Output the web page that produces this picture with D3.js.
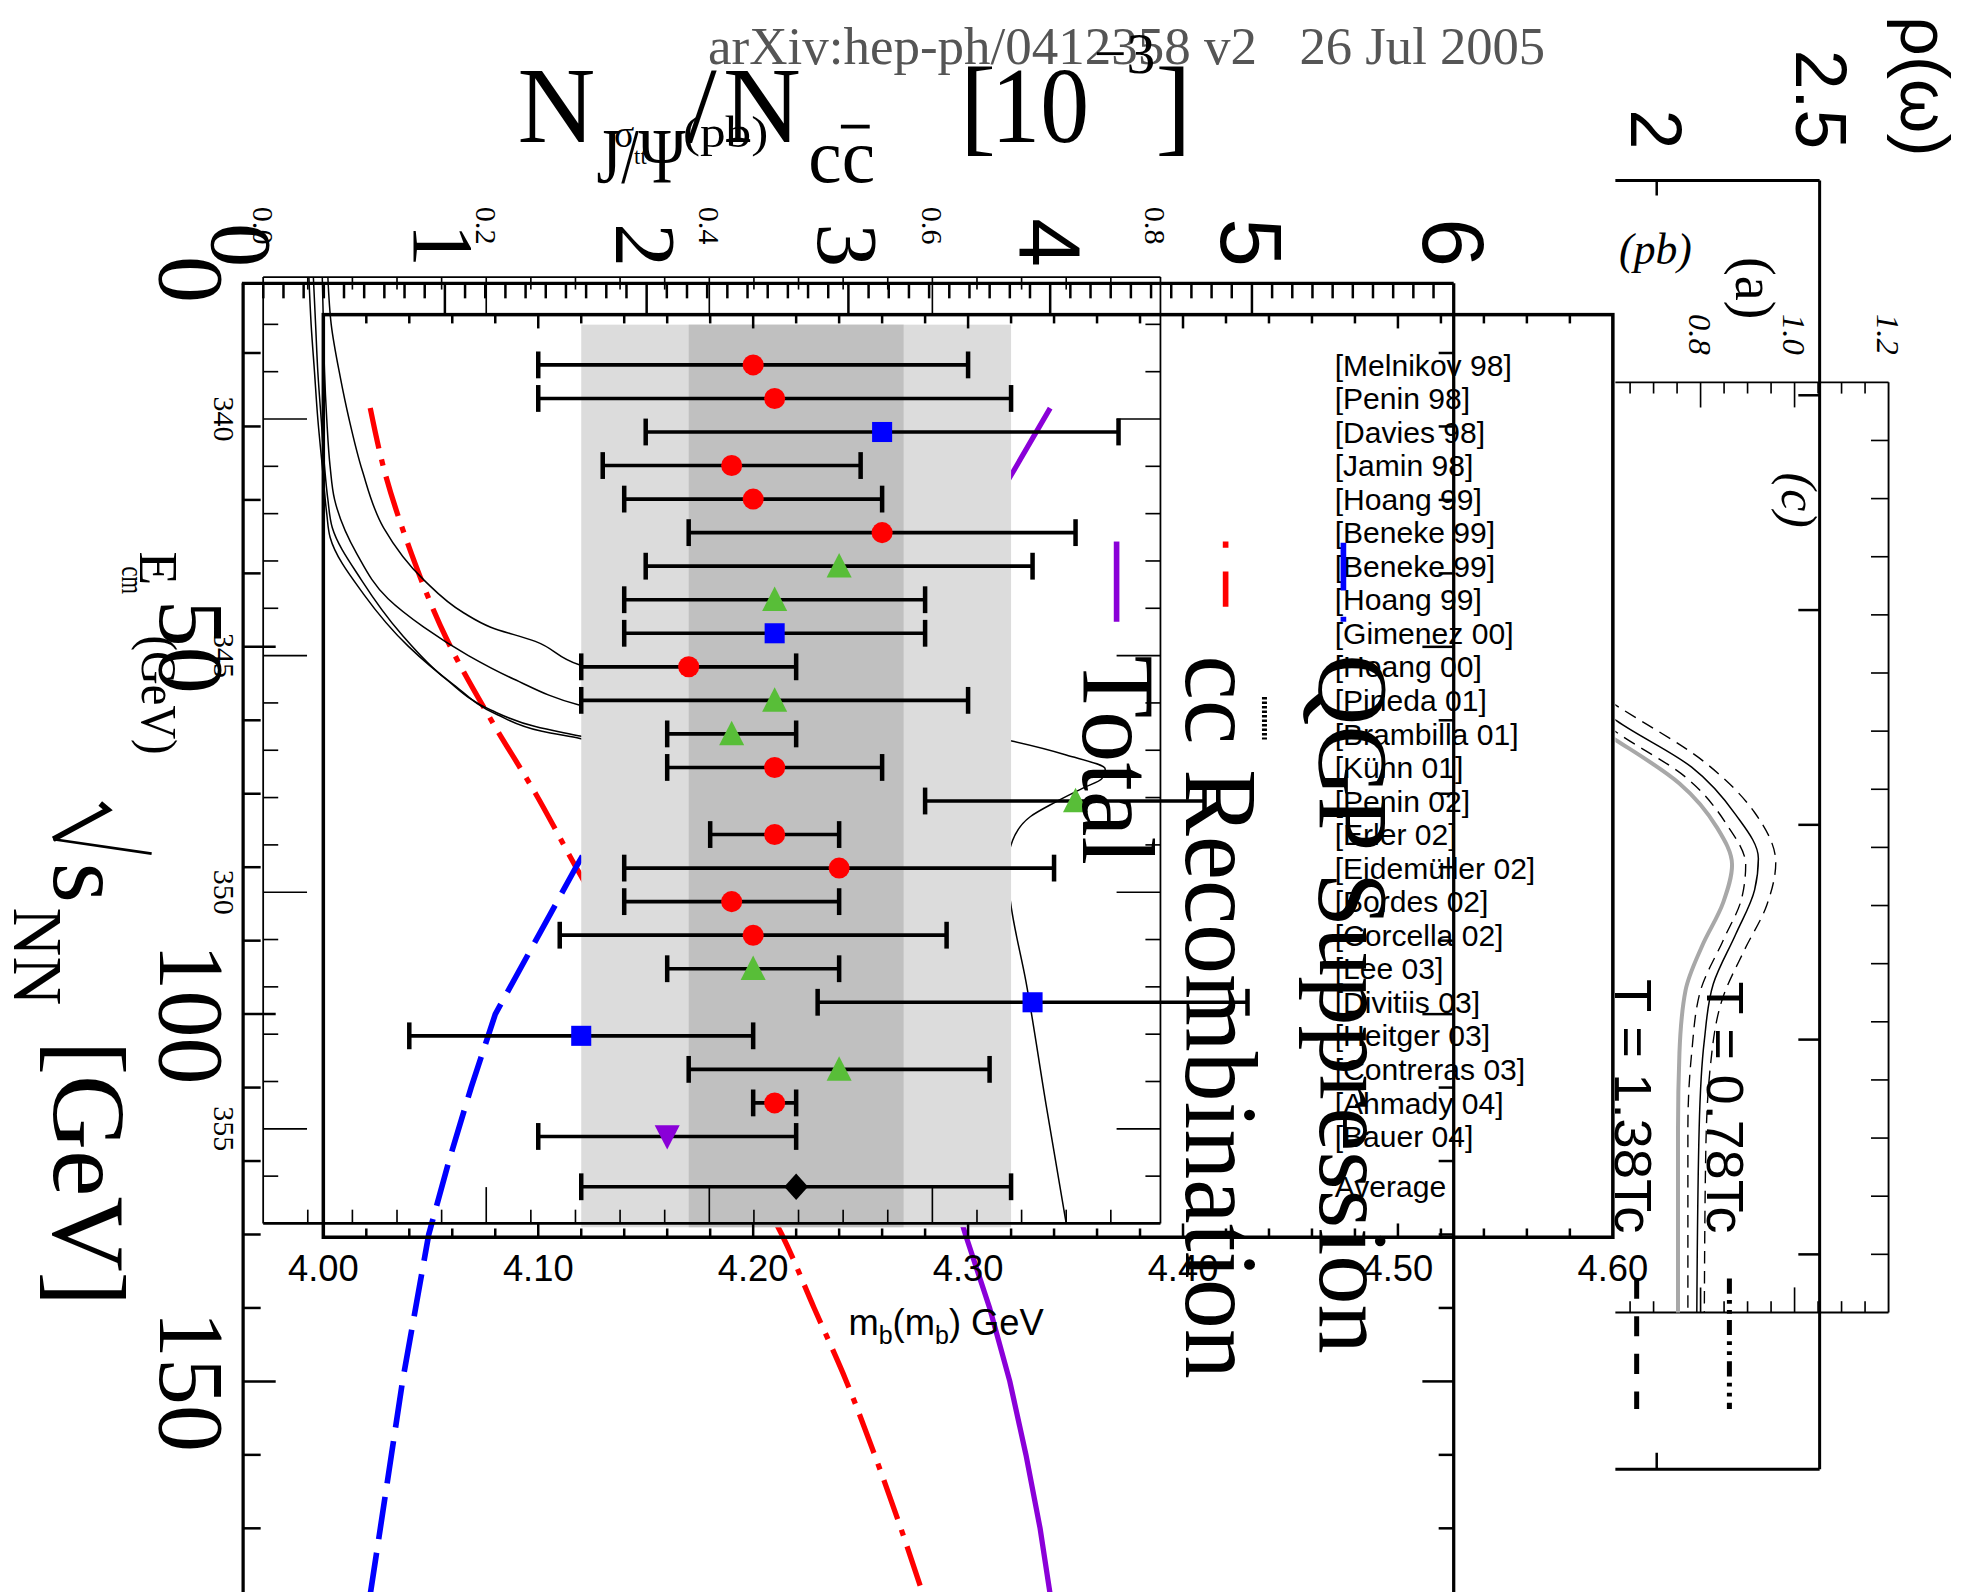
<!DOCTYPE html>
<html><head><meta charset="utf-8">
<script src="https://cdnjs.cloudflare.com/ajax/libs/d3/7.8.5/d3.min.js"></script>
<style>html,body{margin:0;padding:0;background:#fff;overflow:hidden}svg{display:block}</style>
</head><body><svg id="c"></svg>
<script>
// ================= DATA =================
// Chart B : N_J/psi / N_ccbar [10^-3] versus sqrt(s_NN) [GeV]
const sqrtS          = [17.5, 26, 37, 49, 60, 70, 80, 90, 100, 110, 120, 130, 140, 150, 160, 170, 179];
const recombination  = [0.63, 0.70, 0.83, 1.01, 1.23, 1.45, 1.65, 1.86, 2.06, 2.27, 2.47, 2.67, 2.83, 2.99, 3.13, 3.26, 3.37];
const qgpSuppression = [3.37, 3.12, 2.75, 2.40, 2.10, 1.86, 1.65, 1.45, 1.25, 1.13, 1.02, 0.92, 0.855, 0.79, 0.735, 0.68, 0.63];
const totalRatio     = [4.00, 3.82, 3.58, 3.41, 3.33, 3.31, 3.30, 3.31, 3.31, 3.38, 3.47, 3.58, 3.70, 3.80, 3.88, 3.95, 4.00];
const ratioTicks = ["0","1","2","3","4","5","6"];
const sqrtSTicks = ["0","50","100","150"];

// Chart D : sigma_tt (pb) versus E_cm (GeV)
const ecm1 = [337,338,339.1,340,341.1,342.3,343.4,344.1,344.4,344.7,345.2,345.8,346.3,346.8,347.1,347.4,347.6,347.8,348.1,348.4,348.9,349.5,350.2,351.9,354.5,357];
const sig1 = [.058,.061,.069,.077,.089,.108,.144,.18,.204,.244,.284,.40,.55,.67,.72,.755,.752,.735,.71,.688,.672,.667,.670,.684,.702,.72];
const ecm2 = [337,338,339,340,341,341.7,342.85,343.8,344.4,345,345.5,346.05,346.6,347.2,347.8,348.5,350,353,357];
const sig2 = [.053,.054,.055,.057,.060,.064,.084,.112,.144,.184,.225,.284,.40,.52,.58,.57,.56,.58,.60];
const ecm3 = [337,338,339,340,341,341.7,342.3,343.4,344.55,345.5,346.15,346.5,346.7,347.2,347.8,348.5,350,353,357];
const sig3 = [.045,.047,.049,.052,.055,.058,.062,.088,.124,.164,.204,.244,.284,.38,.46,.47,.46,.48,.50];
const ecm4 = [337,338,339,340,341,342,342.5,343.7,344.8,345.6,346.25,346.6,346.75,347.2,347.8,348.5,350,353,357];
const sig4 = [.041,.043,.046,.049,.053,.057,.060,.09,.13,.17,.21,.25,.284,.36,.42,.43,.42,.44,.46];
const sigmaTicks = ["0.0","0.2","0.4","0.6","0.8"];
const ecmTicks = ["340","345","350","355"];

// Chart A : m_b(m_b) determinations
const refs = ["[Melnikov 98]","[Penin 98]","[Davies 98]","[Jamin 98]","[Hoang 99]","[Beneke 99]","[Beneke 99]","[Hoang 99]","[Gimenez 00]","[Hoang 00]","[Pineda 01]","[Brambilla 01]","[Kühn 01]","[Penin 02]","[Erler 02]","[Eidemüller 02]","[Bordes 02]","[Corcella 02]","[Lee 03]","[Divitiis 03]","[Heitger 03]","[Contreras 03]","[Ahmady 04]","[Bauer 04]","Average"];
const mbCentral = [4.20,4.21,4.26,4.19,4.20,4.26,4.24,4.21,4.21,4.17,4.21,4.19,4.21,4.35,4.21,4.24,4.19,4.20,4.20,4.33,4.12,4.24,4.21,4.16,4.22];
const mbLow     = [4.10,4.10,4.15,4.13,4.14,4.17,4.15,4.14,4.14,4.12,4.12,4.16,4.16,4.28,4.18,4.14,4.14,4.11,4.16,4.23,4.04,4.17,4.20,4.10,4.12];
const mbHigh    = [4.30,4.32,4.37,4.25,4.26,4.35,4.33,4.28,4.28,4.22,4.30,4.22,4.26,4.41,4.24,4.34,4.24,4.29,4.24,4.43,4.20,4.31,4.22,4.22,4.32];
const mbMarker  = ["circle","circle","square","circle","circle","circle","tri","tri","square","circle","tri","tri","circle","tri","circle","circle","circle","circle","tri","square","square","tri","circle","down","diamond"];
const bandOuter = [4.12, 4.32];
const bandInner = [4.17, 4.27];
const mbTicks = ["4.00","4.10","4.20","4.30","4.40","4.50","4.60"];

// Chart C / (c) : spectral curves (value, position)
const grayT  = [5.89,6.15,6.90,7.66,8.30,8.95,9.70,10.46,11.54,12.83,16];
const grayV  = [.568,.619,.755,.835,.867,.848,.803,.768,.755,.752,.752];
const solidT = [5.50,5.82,6.62,7.44,8.19,8.73,9.49,10.35,11.32,12.83,16];
const solidV = [.568,.621,.781,.875,.923,.915,.875,.827,.808,.797,.792];
const dashOT = [5.28,5.56,6.53,7.40,8.26,8.99,9.77,10.57,11.75,13.26,16];
const dashOV = [.568,.621,.808,.915,.960,.941,.893,.848,.821,.811,.808];
const dashIT = [5.71,6.02,6.79,7.61,8.30,8.86,9.60,10.46,11.54,12.83,16];
const dashIV = [.568,.621,.768,.856,.896,.888,.848,.800,.781,.773,.773];
const rhoTicks = ["2","2.5"];
const cValTicks = ["0.8","1.0","1.2"];

// ================= SETUP =================
const W = 1568, H = 1270;
const svg = d3.select("#c").attr("width",1965).attr("height",1592)
  .attr("viewBox",`0 0 ${W} ${H}`).attr("preserveAspectRatio","none");
svg.append("rect").attr("width",W).attr("height",H).attr("fill","#fff");
const SERIF = '"Liberation Serif","Times New Roman",serif';
const SANS  = '"Liberation Sans",Arial,Helvetica,sans-serif';

function rt(p,x,y,str,o={}){
  const t = p.append("text").attr("transform",`translate(${x},${y}) rotate(90)`)
    .attr("font-family",o.family||SERIF).attr("font-size",o.size||20)
    .attr("text-anchor",o.anchor||"start").attr("fill",o.fill||"#000").text(str);
  if(o.italic) t.attr("font-style","italic");
  if(o.len) t.attr("textLength",o.len).attr("lengthAdjust","spacingAndGlyphs");
  return t;
}
function txt(p,x,y,str,o={}){
  const t = p.append("text").attr("x",x).attr("y",y)
    .attr("font-family",o.family||SERIF).attr("font-size",o.size||20)
    .attr("text-anchor",o.anchor||"start").attr("fill",o.fill||"#000").text(str);
  if(o.italic) t.attr("font-style","italic");
  if(o.len) t.attr("textLength",o.len).attr("lengthAdjust","spacingAndGlyphs");
  return t;
}
function hTicks(g,vals,sc,y0,lenF,dir,w){
  g.selectAll(null).data(vals).join("line")
   .attr("x1",d=>sc(d)).attr("x2",d=>sc(d)).attr("y1",y0).attr("y2",d=>y0+dir*lenF(d))
   .attr("stroke","#000").attr("stroke-width",w);
}
function vTicks(g,vals,sc,x0,lenF,dir,w){
  g.selectAll(null).data(vals).join("line")
   .attr("y1",d=>sc(d)).attr("y2",d=>sc(d)).attr("x1",x0).attr("x2",d=>x0+dir*lenF(d))
   .attr("stroke","#000").attr("stroke-width",w);
}
function seg(g,x1,y1,x2,y2,w,c="#000"){
  return g.append("line").attr("x1",x1).attr("y1",y1).attr("x2",x2).attr("y2",y2)
    .attr("stroke",c).attr("stroke-width",w);
}
const isInt = d => Math.abs(d-Math.round(d))<1e-6;
const lineY = d3.line().curve(d3.curveMonotoneY);
const lineL = d3.line();

// ================= SCALES =================
const xB = d3.scaleLinear().domain([0,6]).range([194,1160]);
const yB = d3.scaleLinear().domain([0,150]).range([223,1102]);
const xD = d3.scaleLinear().domain([0,0.8]).range([210,922]);
const yD = d3.scaleLinear().domain([337,357]).range([221,976]);
const xM = d3.scaleLinear().domain([4.0,4.6]).range([258,1287]);
const yM = d3.scaleLinear().domain([0,23]).range([291.1,906.6]);
const rowY = i => i<24 ? yM(i) : yM(24.5);
const xC = d3.scaleLinear().domain([2.0,2.5]).range([1322,1454]);
const yC = d3.scaleLinear().domain([0,6]).range([144,1172]);
const xc = d3.scaleLinear().domain([0.8,1.2]).range([1357,1507]);
const yc = d3.scaleLinear().domain([0,16]).range([305,1047]);

// ================= ARXIV + TITLE =================
const gT = svg.append("g");
txt(gT,565,51,"arXiv:hep-ph/0412358 v2",{size:42,fill:"#555",len:438});
txt(gT,1037,51,"26 Jul 2005",{size:42,fill:"#555",len:196});
txt(gT,413,113,"N",{size:86});
txt(gT,476,145,"J/Ψ",{size:62,len:71});
txt(gT,490,117,"σ",{size:30});
txt(gT,506,131,"tt",{size:18});
txt(gT,545,117,"(pb)",{size:36,len:68});
txt(gT,548,113,"/",{size:86});
txt(gT,577,113,"N",{size:86});
txt(gT,645,145,"cc",{size:60});
seg(gT,671,101,694,101,3);
txt(gT,766,113,"[",{size:86});
txt(gT,791,113,"10",{size:86,len:78});
txt(gT,873,58,"−3",{size:46});
txt(gT,922,113,"]",{size:86});

// ================= CHART B CURVES =================
const gB = svg.append("g");
gB.append("path").attr("d",lineY(sqrtS.map((s,i)=>[xB(recombination[i]),yB(s)])))
  .attr("fill","none").attr("stroke","#ff0000").attr("stroke-width",4.2).attr("stroke-dasharray","33,9,5,9");
gB.append("path").attr("d",lineL(sqrtS.map((s,i)=>[xB(qgpSuppression[i]),yB(s)])))
  .attr("fill","none").attr("stroke","#0000ff").attr("stroke-width",4.5).attr("stroke-dasharray","34,11");
gB.append("path").attr("d",lineL(sqrtS.map((s,i)=>[xB(totalRatio[i]),yB(s)])))
  .attr("fill","none").attr("stroke","#8a00d8").attr("stroke-width",4.2);

// ================= CHART D CURVES =================
const gD = svg.append("g");
[[ecm1,sig1],[ecm2,sig2],[ecm3,sig3],[ecm4,sig4]].forEach(([e,s])=>{
  gD.append("path").attr("d",lineY(e.map((v,i)=>[xD(s[i]),yD(v)])))
    .attr("fill","none").attr("stroke","#000").attr("stroke-width",1.2);
});

// ================= MB BANDS =================
const gM = svg.append("g");
gM.append("rect").attr("x",xM(bandOuter[0])).attr("y",259).attr("width",xM(bandOuter[1])-xM(bandOuter[0])).attr("height",720).attr("fill","#dcdcdc");
gM.append("rect").attr("x",xM(bandInner[0])).attr("y",259).attr("width",xM(bandInner[1])-xM(bandInner[0])).attr("height",720).attr("fill","#c0c0c0");

// ================= FRAMES & TICKS =================
const gF = svg.append("g");
// Chart B frame
seg(gF,xB(0),yB(0)+3,xB(0),H,2.6);
seg(gF,xB(0)-1,226,xB(6),226,2.6);
seg(gF,xB(6),226,xB(6),H,2.6);
hTicks(gF,d3.range(1,60).map(i=>i/10),xB,226,d=>isInt(d)?25:12,1,2);
vTicks(gF,d3.range(10,180,10),yB,xB(0),d=>d%50===0?26:14,1,2);
vTicks(gF,d3.range(10,180,10),yB,xB(6),d=>d%50===0?25:12,-1,2);
// Chart D frame
seg(gF,xD(0),yD(337),xD(0),yD(357),1.4);
seg(gF,xD(0),yD(337),926,yD(337),1.4);
seg(gF,926,yD(337),926,yD(357),1.4);
seg(gF,xD(0),yD(357),926,yD(357),2.2);
hTicks(gF,d3.range(1,20).map(i=>i*0.04),xD,yD(337),d=>Math.abs(d/0.2-Math.round(d/0.2))<1e-6?29:10,1,1.3);
hTicks(gF,d3.range(1,20).map(i=>i*0.04),xD,yD(357),d=>Math.abs(d/0.2-Math.round(d/0.2))<1e-6?29:11,-1,1.3);
vTicks(gF,d3.range(338,357),yD,xD(0),d=>d%5===0?35:12,1,1.3);
vTicks(gF,d3.range(338,357),yD,926,d=>d%5===0?35:12,-1,1.3);
// mb frame
gF.append("rect").attr("x",xM(4.0)).attr("y",251).attr("width",xM(4.6)-xM(4.0)).attr("height",736)
  .attr("fill","none").attr("stroke","#000").attr("stroke-width",2.8);
hTicks(gF,d3.range(1,30).map(i=>4+i*0.02),xM,251,d=>Math.abs((d-4)/0.1-Math.round((d-4)/0.1))<1e-6?11:7,1,2);
hTicks(gF,d3.range(1,30).map(i=>4+i*0.02),xM,987,d=>Math.abs((d-4)/0.1-Math.round((d-4)/0.1))<1e-6?11:7,-1,2);

// ================= CHART C and (c) (clipped) =================
svg.append("clipPath").attr("id","clipC").append("rect").attr("x",1289).attr("y",0).attr("width",300).attr("height",H);
const gC = svg.append("g").attr("clip-path","url(#clipC)");
seg(gC,1280,yC(0),xC(2.5)-2,yC(0),2.4);
seg(gC,xC(2.5)-2,yC(0),xC(2.5)-2,yC(6),2.4);
seg(gC,1280,yC(6),xC(2.5)-2,yC(6),2.4);
hTicks(gC,[2.0],xC,yC(0),()=>12,1,2);
hTicks(gC,[2.0],xC,yC(6),()=>13,-1,2);
vTicks(gC,[1,2,3,4,5],yC,xC(2.5)-2,()=>17,-1,2);
seg(gC,1280,yc(0),xc(1.2),yc(0),1.5);
seg(gC,xc(1.2),yc(0),xc(1.2),yc(16),1.5);
seg(gC,1280,yc(16),xc(1.2),yc(16),1.5);
hTicks(gC,d3.range(13,24).map(i=>i*0.05),xc,yc(0),d=>(Math.abs(d-0.8)<1e-6||Math.abs(d-1.0)<1e-6)?20:9,1,1.3);
hTicks(gC,d3.range(13,24).map(i=>i*0.05),xc,yc(16),d=>(Math.abs(d-0.8)<1e-6||Math.abs(d-1.0)<1e-6)?20:9,-1,1.3);
vTicks(gC,d3.range(1,16),yc,xc(1.2),()=>14,-1,1.3);
const cLine = (T,V)=>lineY(T.map((t,i)=>[xc(V[i]),yc(t)]));
gC.append("path").attr("d",cLine(grayT,grayV)).attr("fill","none").attr("stroke","#a8a8a8").attr("stroke-width",3.2);
gC.append("path").attr("d",cLine(dashIT,dashIV)).attr("fill","none").attr("stroke","#000").attr("stroke-width",1.1).attr("stroke-dasharray","10,6");
gC.append("path").attr("d",cLine(solidT,solidV)).attr("fill","none").attr("stroke","#000").attr("stroke-width",1.2);
gC.append("path").attr("d",cLine(dashOT,dashOV)).attr("fill","none").attr("stroke","#000").attr("stroke-width",1.1).attr("stroke-dasharray","10,6");
txt(gC,1292,211,"(pb)",{size:36,italic:true,len:58});
// legend samples below (c)
seg(gC,1306,1020,1306,1124,4).attr("stroke-dasharray","16,14");
seg(gC,1380,1020,1380,1124,4).attr("stroke-dasharray","12,5,3,5,3,5");

// ================= ERROR BARS & MARKERS =================
const gE = svg.append("g");
refs.forEach((r,i)=>{
  const y = rowY(i);
  seg(gE,xM(mbLow[i]),y,xM(mbHigh[i]),y,2.9);
  seg(gE,xM(mbLow[i]),y-10.7,xM(mbLow[i]),y+10.7,3.6);
  seg(gE,xM(mbHigh[i]),y-10.7,xM(mbHigh[i]),y+10.7,3.6);
  const x = xM(mbCentral[i]), m = mbMarker[i];
  if(m==="circle") gE.append("circle").attr("cx",x).attr("cy",y).attr("r",8.4).attr("fill","#ff0000");
  else if(m==="square") gE.append("rect").attr("x",x-8).attr("y",y-8).attr("width",16).attr("height",16).attr("fill","#0000ff");
  else if(m==="tri") gE.append("path").attr("transform",`translate(${x},${y})`).attr("d","M0,-10.5L10,9L-10,9Z").attr("fill","#58be38");
  else if(m==="down") gE.append("path").attr("transform",`translate(${x},${y})`).attr("d","M0,10.5L10,-9L-10,-9Z").attr("fill","#8a00d8");
  else gE.append("path").attr("transform",`translate(${x},${y})`).attr("d","M0,-10.5L9.5,0L0,10.5L-9.5,0Z").attr("fill","#000");
  txt(gE,1065,y+8.5,r,{family:SANS,size:24});
});

// ================= AXIS LABELS =================
const gL = svg.append("g");
// mb axis
mbTicks.forEach(t=>txt(gL,xM(+t),1022,t,{family:SANS,size:29,anchor:"middle"}));
const ml = gL.append("text").attr("x",677).attr("y",1065).attr("font-family",SANS).attr("font-size",29);
ml.append("tspan").text("m");
ml.append("tspan").attr("font-size",20).attr("dy",7).text("b");
ml.append("tspan").attr("dy",-7).text("(m");
ml.append("tspan").attr("font-size",20).attr("dy",7).text("b");
ml.append("tspan").attr("dy",-7).text(") GeV");
// chart B tick labels
ratioTicks.forEach(t=>{
  const big = +t>=4;
  rt(gL,xB(+t)-0.35*70,213,t,{size:70,anchor:"end",family:big?SANS:SERIF});
});
sqrtSTicks.forEach(t=>rt(gL,128,yB(+t),t,{size:75,anchor:"middle"}));
// chart D tick labels
sigmaTicks.forEach(t=>rt(gL,xD(+t)-0.34*24,195,t,{size:24,anchor:"end"}));
ecmTicks.forEach(t=>rt(gL,171,yD(+t),t,{size:24,anchor:"middle"}));
// sqrt(s_NN) [GeV]
gL.append("path").attr("d","M80,641 L86,646 L42.5,669.5").attr("fill","none").attr("stroke","#000").attr("stroke-width",4.5);
gL.append("path").attr("d","M42.5,669.5 L121,681").attr("fill","none").attr("stroke","#000").attr("stroke-width",2.2);
rt(gL,43,688,"s",{size:83});
rt(gL,11,724,"NN",{size:55,len:78});
rt(gL,43,830,"[GeV]",{size:83,len:212});
// E_cm (GeV)
rt(gL,112,440,"E",{size:44});
rt(gL,97,452,"cm",{size:26,len:22});
rt(gL,113,507,"(GeV)",{size:40,len:95});
// chart C labels
rhoTicks.forEach(t=>rt(gL,xC(+t)-0.36*57,119,t,{size:57,family:SANS,anchor:"end"}));
rt(gL,1517,125,"ρ(ω)",{size:55,family:SANS,anchor:"end",len:112});
rt(gL,1385,205,"(a)",{size:45,len:50});
cValTicks.forEach(t=>rt(gL,xc(+t)-0.34*26,283,t,{size:26,italic:true,anchor:"end"}));
rt(gL,1422,377,"(c)",{size:40,italic:true,len:44});
rt(gL,1289,781,"T = 1.38Tc",{size:42,family:SANS,len:203});
rt(gL,1362,783,"T = 0.78Tc",{size:42,family:SANS,len:201});

// ================= LEGEND OF CHART B =================
seg(gL,891,432,891,496,4.5,"#8a00d8");
seg(gL,978,432,978,484,4.5,"#ff0000").attr("stroke-dasharray","5,19,28,100");
seg(gL,1072,433,1072,496,4.5,"#0000ff").attr("stroke-dasharray","38,21,4,100");
rt(gL,864,523,"Total",{size:82,len:167});
rt(gL,946,523,"cc Recombination",{size:82,len:577});
seg(gL,1009,556,1009,590,4).attr("stroke-dasharray","2,1.6");
rt(gL,1053,522,"QGP Suppression",{size:80,len:558});
</script></body></html>
